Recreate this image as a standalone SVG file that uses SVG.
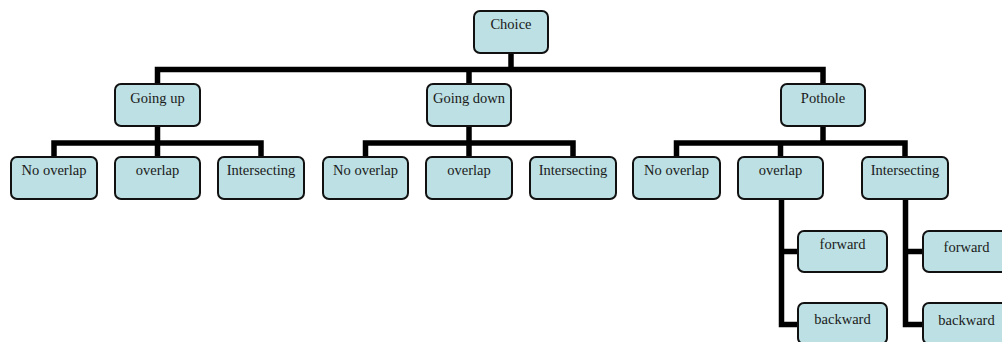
<svg xmlns="http://www.w3.org/2000/svg" width="1002" height="342" viewBox="0 0 1002 342">
<style>
.n rect{fill:#bce0e3;stroke:#111;stroke-width:2}
.n text{font-family:"Liberation Serif","Times New Roman",serif;font-size:14.5px;fill:#1a1a1a;text-anchor:middle}
.c path{fill:none;stroke:#000;stroke-width:5.5;stroke-linejoin:miter;stroke-linecap:butt}
</style>
<rect width="1002" height="342" fill="#fff"/>
<g class="c" id="connectors">
<path d="M511 53V69.5"/>
<path d="M157.5 84V69.5H823V84"/>
<path d="M469 69.5V84"/>
<path d="M157.5 126V157"/>
<path d="M54 157V143H261V157"/>
<path d="M469 126V157"/>
<path d="M365.5 157V143H573V157"/>
<path d="M823 126V143"/>
<path d="M676.5 157V143H905V157"/>
<path d="M780.5 143V157"/>
<path d="M781.5 199V324.5H798"/>
<path d="M781.5 251.5H798"/>
<path d="M905.5 199V324.5H923"/>
<path d="M905.5 251.5H923"/>
</g>
<g class="n" id="choice"><rect x="474" y="11" width="74" height="42" rx="6"/><text x="511" y="29">Choice</text></g>
<g class="n" id="going-up"><rect x="115" y="84" width="85" height="42" rx="6"/><text x="157.5" y="103">Going up</text></g>
<g class="n" id="going-down"><rect x="427" y="84" width="84" height="42" rx="6"/><text x="469" y="103">Going down</text></g>
<g class="n" id="pothole"><rect x="781" y="84" width="84" height="42" rx="6"/><text x="823" y="103">Pothole</text></g>
<g class="n" id="up-no-overlap"><rect x="11" y="157" width="86" height="42" rx="6"/><text x="54" y="175">No overlap</text></g>
<g class="n" id="up-overlap"><rect x="115" y="157" width="85" height="42" rx="6"/><text x="157.5" y="175">overlap</text></g>
<g class="n" id="up-intersecting"><rect x="218" y="157" width="86" height="42" rx="6"/><text x="261" y="175">Intersecting</text></g>
<g class="n" id="down-no-overlap"><rect x="323" y="157" width="85" height="42" rx="6"/><text x="365.5" y="175">No overlap</text></g>
<g class="n" id="down-overlap"><rect x="426" y="157" width="86" height="42" rx="6"/><text x="469" y="175">overlap</text></g>
<g class="n" id="down-intersecting"><rect x="530" y="157" width="86" height="42" rx="6"/><text x="573" y="175">Intersecting</text></g>
<g class="n" id="pot-no-overlap"><rect x="633" y="157" width="87" height="42" rx="6"/><text x="676.5" y="175">No overlap</text></g>
<g class="n" id="pot-overlap"><rect x="738" y="157" width="85" height="42" rx="6"/><text x="780.5" y="175">overlap</text></g>
<g class="n" id="pot-intersecting"><rect x="862" y="157" width="86" height="42" rx="6"/><text x="905" y="175">Intersecting</text></g>
<g class="n" id="ov-forward"><rect x="798" y="231" width="89" height="41" rx="6"/><text x="842.5" y="249">forward</text></g>
<g class="n" id="ov-backward"><rect x="798" y="303" width="89" height="41" rx="6"/><text x="842.5" y="324">backward</text></g>
<g class="n" id="in-forward"><rect x="923" y="231" width="88" height="41" rx="6"/><text x="966.5" y="252">forward</text></g>
<g class="n" id="in-backward"><rect x="923" y="303" width="88" height="41" rx="6"/><text x="966.5" y="325">backward</text></g>
</svg>
